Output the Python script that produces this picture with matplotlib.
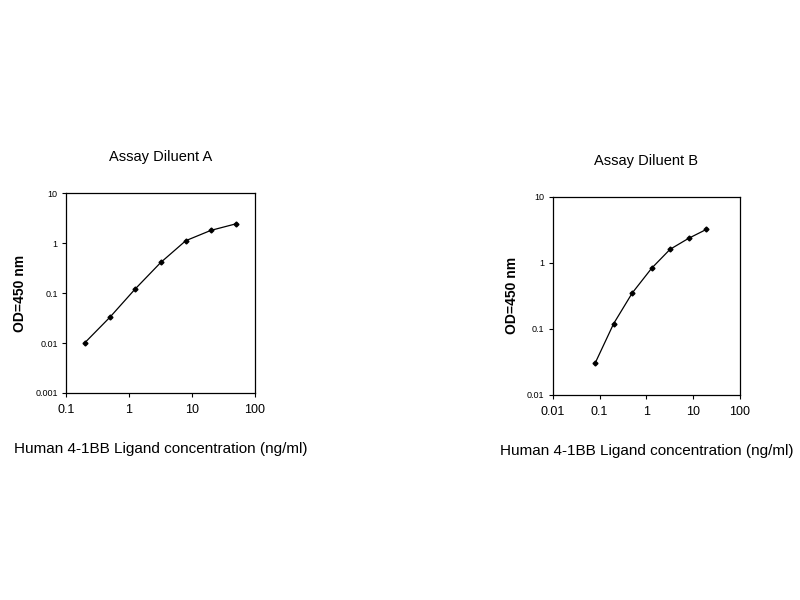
import matplotlib.pyplot as plt
from matplotlib.ticker import FixedLocator, FixedFormatter, NullLocator

plt.rcParams['font.family'] = ['Liberation Sans', 'DejaVu Sans']

# Assay Diluent A
conc_a = [0.2, 0.5, 1.25, 3.2, 8, 20, 51]
od_a = [0.0102, 0.033, 0.12, 0.41, 1.12, 1.8, 2.45]
xticks_a = [0.1, 1, 10, 100]
xlabels_a = ['0.1', '1', '10', '100']
yticks_a = [0.001, 0.01, 0.1, 1, 10]
ylabels_a = ['0.001', '0.01', '0.1', '1', '10']

# Assay Diluent B
conc_b = [0.08, 0.2, 0.5, 1.3, 3.2, 8, 19]
od_b = [0.03, 0.12, 0.35, 0.83, 1.6, 2.35, 3.2]
xticks_b = [0.01, 0.1, 1, 10, 100]
xlabels_b = ['0.01', '0.1', '1', '10', '100']
yticks_b = [0.01, 0.1, 1, 10]
ylabels_b = ['0.01', '0.1', '1', '10']

fig = plt.figure(figsize=(8, 6), dpi=100)
ax1 = fig.add_axes([0.0825, 0.345, 0.236, 0.333])
ax2 = fig.add_axes([0.691, 0.342, 0.234, 0.330])


def style(ax, x, y, xt, xl, yt, yl, title):
    ax.plot(x, y, color='black', lw=0.9, marker='D', ms=2.5)
    ax.set_xscale('log')
    ax.set_yscale('log')
    ax.set_xlim(xt[0], xt[-1])
    ax.set_ylim(yt[0], yt[-1])
    ax.xaxis.set_major_locator(FixedLocator(xt))
    ax.xaxis.set_major_formatter(FixedFormatter(xl))
    ax.yaxis.set_major_locator(FixedLocator(yt))
    ax.yaxis.set_major_formatter(FixedFormatter(yl))
    ax.xaxis.set_minor_locator(NullLocator())
    ax.yaxis.set_minor_locator(NullLocator())
    ax.tick_params(axis='x', labelsize=9, length=3, width=0.8, pad=5)
    ax.tick_params(axis='y', labelsize=6.5, length=3, width=0.8, pad=3)
    for s in ax.spines.values():
        s.set_linewidth(0.9)
    ax.set_title(title, fontsize=10.5, pad=23)
    ax.set_xlabel('Human 4-1BB Ligand concentration (ng/ml)', fontsize=11, labelpad=19)
    ax.set_ylabel('OD=450 nm', fontsize=10, fontweight='bold', labelpad=6)


style(ax1, conc_a, od_a, xticks_a, xlabels_a, yticks_a, ylabels_a, 'Assay Diluent A')
style(ax2, conc_b, od_b, xticks_b, xlabels_b, yticks_b, ylabels_b, 'Assay Diluent B')

fig.savefig('out.png', dpi=100)
